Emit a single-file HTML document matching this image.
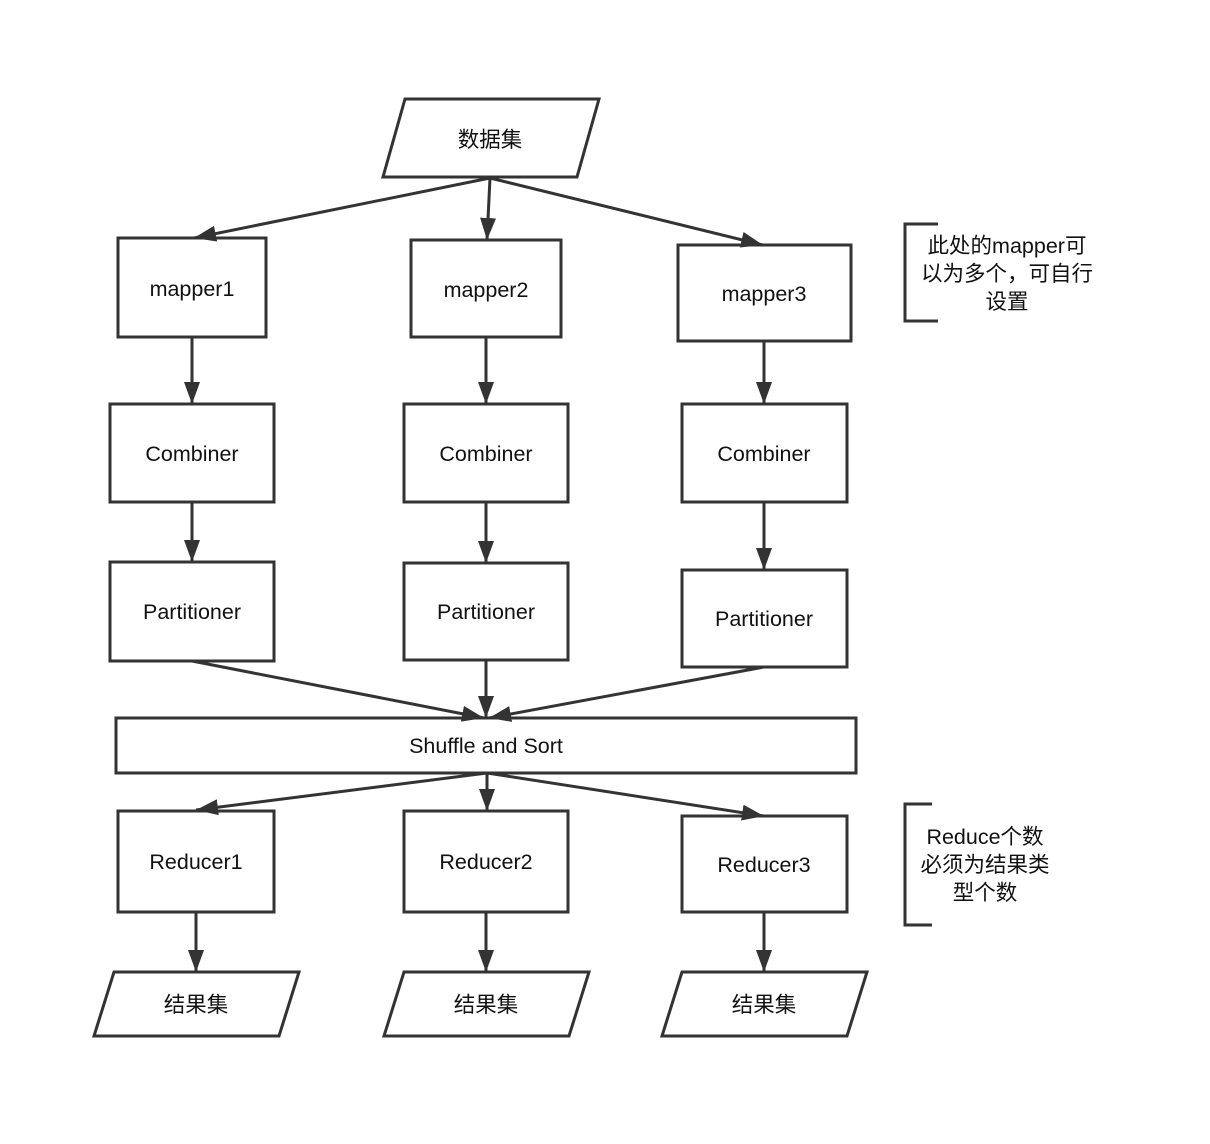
<!DOCTYPE html>
<html><head><meta charset="utf-8"><style>
html,body{margin:0;padding:0;background:#fff;}
svg text{font-family:"Liberation Sans","Noto Sans CJK SC",sans-serif;font-size:21.5px;fill:#111;text-anchor:middle;dominant-baseline:central;}
</style></head><body>
<svg width="1210" height="1139" viewBox="0 0 1210 1139" xmlns="http://www.w3.org/2000/svg">
<defs>
<marker id="b" viewBox="0 0 22 16" refX="22" refY="8" markerWidth="22" markerHeight="16" orient="auto" markerUnits="userSpaceOnUse"><path d="M0,0 L22,8 L0,16 Z" fill="#333"/></marker></defs>
<g fill="none" stroke="#333" stroke-width="3">
<polygon points="405,99 599,99 577,177 383,177" fill="#fff"/>
<rect x="118" y="238" width="148" height="99"/>
<rect x="411" y="240" width="150" height="97"/>
<rect x="678" y="245" width="173" height="96"/>
<rect x="110" y="404" width="164" height="98"/>
<rect x="404" y="404" width="164" height="98"/>
<rect x="682" y="404" width="165" height="98"/>
<rect x="110" y="562" width="164" height="99"/>
<rect x="404" y="563" width="164" height="97"/>
<rect x="682" y="570" width="165" height="97"/>
<rect x="116" y="718" width="740" height="55"/>
<rect x="118" y="811" width="156" height="101"/>
<rect x="404" y="811" width="164" height="101"/>
<rect x="682" y="816" width="165" height="96"/>
<polygon points="114,972 299,972 279,1036 94,1036"/>
<polygon points="404,972 589,972 569,1036 384,1036"/>
<polygon points="682,972 867,972 847,1036 662,1036"/>
<path d="M938,224 H905 V321 H938"/>
<path d="M932,804 H905 V925 H932"/>
</g>
<g stroke="#333" stroke-width="3" marker-end="url(#b)">
<line x1="490" y1="178" x2="194" y2="238"/>
<line x1="490" y1="178" x2="487" y2="240"/>
<line x1="490" y1="178" x2="763" y2="245"/>
<line x1="192" y1="337" x2="192" y2="404"/>
<line x1="486" y1="337" x2="486" y2="404"/>
<line x1="764" y1="341" x2="764" y2="404"/>
<line x1="192" y1="502" x2="192" y2="562"/>
<line x1="486" y1="502" x2="486" y2="563"/>
<line x1="764" y1="502" x2="764" y2="570"/>
<line x1="192" y1="661" x2="484" y2="718"/>
<line x1="486" y1="660" x2="486" y2="718"/>
<line x1="764" y1="667" x2="489" y2="718"/>
<line x1="487" y1="773" x2="196" y2="810"/>
<line x1="487" y1="773" x2="487" y2="811"/>
<line x1="487" y1="773" x2="764" y2="816"/>
<line x1="196" y1="912" x2="196" y2="972"/>
<line x1="486" y1="912" x2="486" y2="972"/>
<line x1="764" y1="912" x2="764" y2="972"/>
</g>
<text x="490" y="140">数据集</text>
<text x="192" y="289">mapper1</text>
<text x="486" y="290">mapper2</text>
<text x="764" y="294">mapper3</text>
<text x="192" y="454">Combiner</text>
<text x="486" y="454">Combiner</text>
<text x="764" y="454">Combiner</text>
<text x="192" y="612">Partitioner</text>
<text x="486" y="612">Partitioner</text>
<text x="764" y="619">Partitioner</text>
<text x="486" y="746">Shuffle and Sort</text>
<text x="196" y="862">Reducer1</text>
<text x="486" y="862">Reducer2</text>
<text x="764" y="865">Reducer3</text>
<text x="196" y="1005">结果集</text>
<text x="486" y="1005">结果集</text>
<text x="764" y="1005">结果集</text>
<text x="1007" y="246">此处的mapper可</text>
<text x="1007" y="274">以为多个，可自行</text>
<text x="1007" y="302">设置</text>
<text x="985" y="837">Reduce个数</text>
<text x="985" y="865">必须为结果类</text>
<text x="985" y="893">型个数</text>
</svg>
</body></html>
